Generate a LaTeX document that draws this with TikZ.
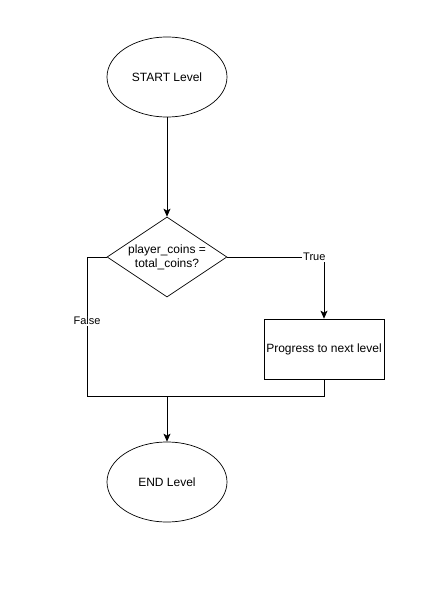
\documentclass[tikz,border=0pt]{standalone}
\usepackage{fontspec}
\setmainfont{Liberation Sans}
\usepackage{xcolor}
\usepackage{tikz}
\usetikzlibrary{positioning,arrows.meta,shapes.geometric,calc}
\definecolor{flowline}{HTML}{000000}
\definecolor{flowtext}{HTML}{000000}
\tikzset{
  termbox/.style={ellipse,draw=flowline,line width=0.7pt,fill=white,
    minimum width=120pt,minimum height=80pt,inner sep=0pt,
    font=\fontsize{12}{14}\selectfont,text=flowtext},
  decbox/.style={diamond,draw=flowline,line width=0.7pt,fill=white,aspect=1.5,
    minimum width=120pt,minimum height=80pt,inner sep=-2pt,align=center,
    font=\fontsize{12}{14}\selectfont,text=flowtext},
  procbox/.style={rectangle,draw=flowline,line width=0.7pt,fill=white,
    minimum width=120pt,minimum height=60pt,inner sep=0pt,
    font=\fontsize{12}{14}\selectfont,text=flowtext},
  flow/.style={line width=0.8pt,draw=flowline},
  flowarr/.style={flow,-{Stealth[length=8pt,width=7pt,inset=2pt]}},
  edgelbl/.style={fill=white,inner sep=1pt,font=\fontsize{11}{13}\selectfont,text=flowtext}
}
\begin{document}
\begin{tikzpicture}[x=1pt,y=-1pt]
\useasboundingbox (0,0) rectangle (432,591);

\node[termbox] (start) at (167,77) {START Level};
\node[decbox] (check) at (167,257) {player\_coins =\\total\_coins?};
\node[procbox] (prog) at (324,349) {Progress to next level};
\node[termbox] (finish) at (167,482) {END Level};

\coordinate (joinL) at (87,396);
\coordinate (merge) at (167,396);

\draw[flowarr] (start.south) -- (check.north);
\draw[flowarr] (check.east) -| node[edgelbl,pos=0.45] {True} (prog.north);
\draw[flow] (check.west) -| node[edgelbl,pos=0.73] {False} (joinL) -| (prog.south);
\draw[flowarr] (merge) -- (finish.north);

\end{tikzpicture}
\end{document}
